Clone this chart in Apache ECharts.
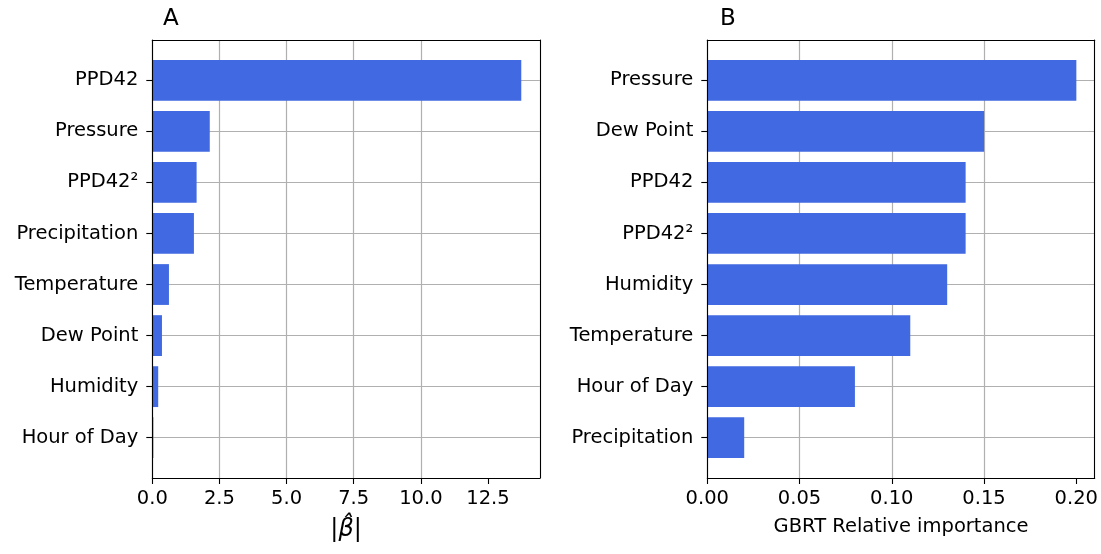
<!DOCTYPE html>
<html>
<head>
<meta charset="utf-8">
<script src="https://cdn.jsdelivr.net/npm/echarts@6/dist/echarts.min.js"></script>
<style>
  html, body { margin: 0; padding: 0; background: #fff; }
  #main { width: 1101px; height: 554px; }
</style>
</head>
<body>
<div id="main"></div>
<script>
// panel A: linear model coefficients
const catsA = ['PPD42', 'Pressure', 'PPD42²', 'Precipitation', 'Temperature', 'Dew Point', 'Humidity', 'Hour of Day'];
const valsA = [13.74, 2.14, 1.65, 1.55, 0.62, 0.36, 0.22, 0.04];
const ticksA = [0, 2.5, 5, 7.5, 10, 12.5];

// panel B: GBRT relative importance
const catsB = ['Pressure', 'Dew Point', 'PPD42', 'PPD42²', 'Humidity', 'Temperature', 'Hour of Day', 'Precipitation'];
const valsB = [0.2, 0.15, 0.14, 0.14, 0.13, 0.11, 0.08, 0.02];
const ticksB = [0, 0.05, 0.1, 0.15, 0.2];

const FONT = 'DejaVu Sans';
const GRIDC = '#b0b0b0';
const BAR = '#4169e1';

const chart = echarts.init(document.getElementById('main'), null, { renderer: 'canvas' });

// outer grid = frame (ylim with matplotlib margins), inner grid = category centres
function panelGrids(left) {
  return [
    { left: left, top: 40, width: 387.5, height: 438 },
    { left: left, top: 80.3, width: 387.5, height: 357.4 }
  ];
}

function frameAxes(gridIndex, max, ticks, digits, name, nameGap, nameStyle) {
  const bottom = {
    type: 'value', gridIndex: gridIndex, position: 'bottom', min: 0, max: max,
    interval: ticks[1] - ticks[0],
    axisLine: { show: true, lineStyle: { color: '#000', width: 1.1 } },
    axisTick: { show: true, length: 6, lineStyle: { color: '#000', width: 1.1 }, customValues: ticks },
    axisLabel: {
      show: true, margin: 11, color: '#000', fontFamily: FONT, fontSize: 19.5,
      customValues: ticks,
      formatter: v => v.toFixed(digits)
    },
    splitLine: { show: true, showMaxLine: false, lineStyle: { color: GRIDC, width: 1.2 } },
    name: name, nameLocation: 'middle', nameGap: nameGap,
    nameTextStyle: nameStyle
  };
  const top = {
    type: 'value', gridIndex: gridIndex, position: 'top', min: 0, max: max, z: 3,
    axisLine: { show: true, onZero: false, lineStyle: { color: '#000', width: 1.1 } },
    axisTick: { show: false }, axisLabel: { show: false }, splitLine: { show: false }
  };
  const hidden = {
    type: 'value', gridIndex: gridIndex + 1, min: 0, max: max, show: false,
    splitLine: { show: false }
  };
  return [bottom, top, hidden];
}

function frameYAxes(gridIndex, cats) {
  const side = pos => ({
    type: 'value', gridIndex: gridIndex, position: pos, min: 0, max: 1, z: 3,
    axisLine: { show: true, onZero: false, lineStyle: { color: '#000', width: 1.1 } },
    axisTick: { show: false }, axisLabel: { show: false }, splitLine: { show: false }
  });
  const cat = {
    type: 'category', gridIndex: gridIndex + 1, data: cats, inverse: true, boundaryGap: false,
    axisLine: { show: false },
    axisTick: { show: true, length: 6, alignWithLabel: true, lineStyle: { color: '#000', width: 1.1 } },
    axisLabel: { interval: 0, margin: 14, padding: [7, 0, 0, 0], color: '#000', fontFamily: FONT, fontSize: 19.5 },
    splitLine: { show: true, interval: 0, lineStyle: { color: GRIDC, width: 1.2 } }
  };
  return [side('left'), side('right'), cat];
}

const option = {
  backgroundColor: '#ffffff',
  animation: false,
  title: [
    { text: 'A', left: 163, top: 8, padding: 0, textStyle: { fontFamily: FONT, fontSize: 23, fontWeight: 'normal', color: '#000' } },
    { text: 'B', left: 720, top: 8, padding: 0, textStyle: { fontFamily: FONT, fontSize: 23, fontWeight: 'normal', color: '#000' } }
  ],
  grid: [...panelGrids(152.3), ...panelGrids(707.3)],
  xAxis: [
    ...frameAxes(0, 14.43, ticksA, 1, '|{b|β̂}|', 40, {
      fontFamily: FONT, fontSize: 24, color: '#000',
      rich: { b: { fontFamily: FONT, fontSize: 24, fontStyle: 'italic', color: '#000' } }
    }),
    ...frameAxes(2, 0.21, ticksB, 2, 'GBRT Relative importance', 39, {
      fontFamily: FONT, fontSize: 19.5, color: '#000'
    })
  ],
  yAxis: [...frameYAxes(0, catsA), ...frameYAxes(2, catsB)],
  series: [
    {
      type: 'bar', xAxisIndex: 2, yAxisIndex: 2, data: valsA,
      barWidth: 40.8, clip: false, itemStyle: { color: BAR }
    },
    {
      type: 'bar', xAxisIndex: 5, yAxisIndex: 5, data: valsB,
      barWidth: 40.8, clip: false, itemStyle: { color: BAR }
    }
  ]
};

chart.setOption(option);
</script>
</body>
</html>
